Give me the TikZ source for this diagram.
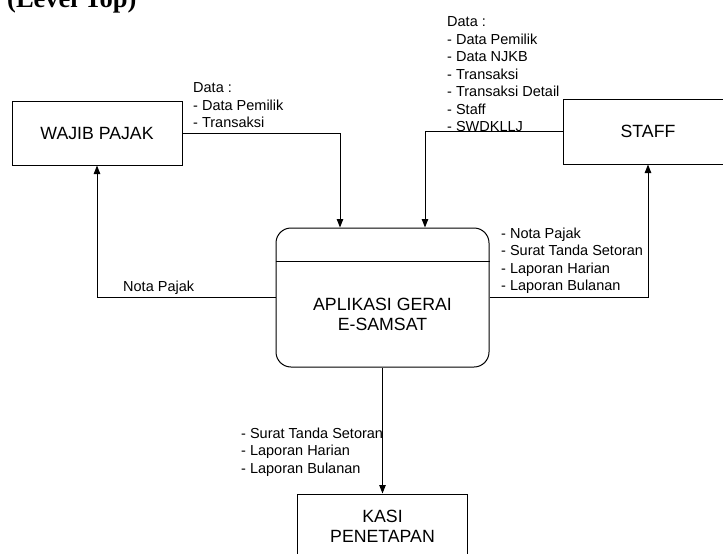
\documentclass[tikz,border=0pt]{standalone}
\usepackage{fontspec}
\setmainfont{Liberation Sans}
\newfontfamily\titlefont{Liberation Serif}
\usetikzlibrary{arrows.meta}
\begin{document}
\begin{tikzpicture}[x=1pt,y=-1pt,
  every node/.style={inner sep=0pt},
  ent/.style={draw, line width=1pt, minimum width=170pt, minimum height=64pt,
    font=\fontsize{17.7}{20.5}\selectfont, align=center},
  proctxt/.style={font=\fontsize{17.7}{19.5}\selectfont, align=center},
  lbl/.style={anchor=north west, align=left, font=\fontsize{14.5}{17.5}\selectfont},
  flow/.style={draw, line width=1pt, -{Triangle[length=8.5pt,width=6.5pt]}}]
\useasboundingbox (0,0) rectangle (723,554);
% title
\node[anchor=base west, font=\titlefont\bfseries\fontsize{26.5}{30}\selectfont] (title) at (7,7.5) {(Level Top)};
% entities
\node[ent] (wp) at (97,133) {WAJIB PAJAK};
\node[ent, minimum height=65pt] (staff) at (648,131.5) {STAFF};
\node[ent, minimum height=65pt] (kasi) at (382.5,526.5) {KASI\\PENETAPAN};
% process
\node[draw, line width=1pt, rounded corners=15pt, minimum width=213pt, minimum height=139pt] (proc) at (382.5,297.5) {};
\node[proctxt] (proclabel) at (382.5,314.5) {APLIKASI GERAI\\E-SAMSAT};
\draw[line width=1pt] ([yshift=-34pt]proc.north west) -- ([yshift=-34pt]proc.north east);
% flows
\draw[flow] (wp.east) -| ([xshift=-42.5pt]proc.north);
\draw[flow] (staff.west) -| ([xshift=42.5pt]proc.north);
\draw[flow] (proc.west) -| (wp.south);
\draw[flow] (proc.east) -| (staff.south);
\draw[flow] (proc.south) -- (kasi.north);
% labels
\node[lbl] (l1) at (193,82.6) {Data :\\- Data Pemilik\\- Transaksi};
\node[lbl] (l2) at (447,16.6) {Data :\\- Data Pemilik\\- Data NJKB\\- Transaksi\\- Transaksi Detail\\- Staff\\- SWDKLLJ};
\node[lbl] (l3) at (501,227.6) {- Nota Pajak\\- Surat Tanda Setoran\\- Laporan Harian\\- Laporan Bulanan};
\node[lbl] (l4) at (241,427.6) {- Surat Tanda Setoran\\- Laporan Harian\\- Laporan Bulanan};
\node[anchor=base west, font=\fontsize{14.5}{17.5}\selectfont] (l5) at (123,291) {Nota Pajak};
\end{tikzpicture}
\end{document}
